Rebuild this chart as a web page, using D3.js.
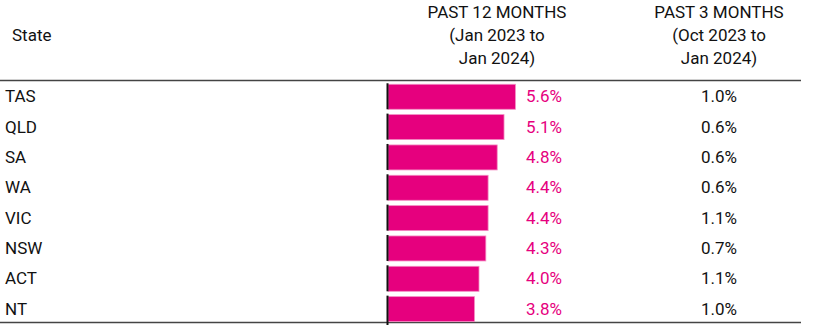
<!DOCTYPE html>
<html>
<head>
<meta charset="utf-8">
<script src="https://cdn.jsdelivr.net/npm/d3@7"></script>
<style>
  html, body { margin: 0; padding: 0; background: #fff; }
  svg text { font-family: Roboto, "Noto Sans", sans-serif; }
</style>
</head>
<body>
<svg id="chart" width="837" height="325"></svg>
<script>
// Annual and quarterly dwelling value change by state
const states = ["TAS", "QLD", "SA", "WA", "VIC", "NSW", "ACT", "NT"];
const past12 = [5.6, 5.1, 4.8, 4.4, 4.4, 4.3, 4.0, 3.8];
const past3 = [1.0, 0.6, 0.6, 0.6, 1.1, 0.7, 1.1, 1.0];
const headerState = ["State"];
const header12 = ["PAST 12 MONTHS", "(Jan 2023 to", "Jan 2024)"];
const header3 = ["PAST 3 MONTHS", "(Oct 2023 to", "Jan 2024)"];

const svg = d3.select("#chart");
const pink = "#e6007e";
const ink = "#111";
const fs = 17;

const tableLeft = 0, tableRight = 801;
const barX0 = 388;

const y = d3.scaleBand().domain(states).range([81.6, 324.3]).paddingInner(0.176).paddingOuter(0.088);
const x = d3.scaleLinear().domain([0, 10]).range([barX0, barX0 + 227.5]);

const fmt = d => d.toFixed(1) + "%";

// Header
svg.append("text").attr("x", 12).attr("y", 41).attr("font-size", fs).attr("fill", ink).text(headerState[0]);
const hdr = (lines, cx) => {
  svg.append("g").selectAll("text").data(lines).join("text")
    .attr("x", cx).attr("y", (d, i) => 18 + i * 23)
    .attr("text-anchor", "middle").attr("font-size", fs).attr("fill", ink)
    .text(d => d);
};
hdr(header12, 497);
hdr(header3, 719);

// Rules
svg.append("line").attr("x1", tableLeft).attr("x2", tableRight).attr("y1", 80.5).attr("y2", 80.5)
  .attr("stroke", "#444").attr("stroke-width", 1.5);
svg.append("line").attr("x1", tableLeft).attr("x2", tableRight).attr("y1", 322.5).attr("y2", 322.5)
  .attr("stroke", "#444").attr("stroke-width", 1.5);

// State labels
svg.append("g").selectAll("text").data(states).join("text")
  .attr("x", 5).attr("y", d => y(d) + y.bandwidth() / 2)
  .attr("dy", "0.32em").attr("font-size", fs).attr("fill", ink).text(d => d);

// Bars
svg.append("g").selectAll("rect").data(states).join("rect")
  .attr("x", x(0)).attr("y", d => y(d))
  .attr("width", (d, i) => x(past12[i]) - x(0)).attr("height", y.bandwidth())
  .attr("fill", pink).attr("stroke", "#f38cc2").attr("stroke-width", 0.8);

// Dark baseline segment at the start of each bar
svg.append("g").selectAll("line").data(states).join("line")
  .attr("x1", barX0 - 0.5).attr("x2", barX0 - 0.5)
  .attr("y1", d => y(d) - 1)
  .attr("y2", (d, i) => i === states.length - 1 ? 325 : y(d) + y.bandwidth())
  .attr("stroke", "#111").attr("stroke-width", 2);

// Bar value labels
svg.append("g").selectAll("text").data(states).join("text")
  .attr("x", 526).attr("y", d => y(d) + y.bandwidth() / 2)
  .attr("dy", "0.32em").attr("font-size", fs).attr("fill", pink)
  .text((d, i) => fmt(past12[i]));

// Past 3 months column
svg.append("g").selectAll("text").data(states).join("text")
  .attr("x", 719).attr("y", d => y(d) + y.bandwidth() / 2)
  .attr("dy", "0.32em").attr("text-anchor", "middle").attr("font-size", fs).attr("fill", ink)
  .text((d, i) => fmt(past3[i]));
</script>
</body>
</html>
